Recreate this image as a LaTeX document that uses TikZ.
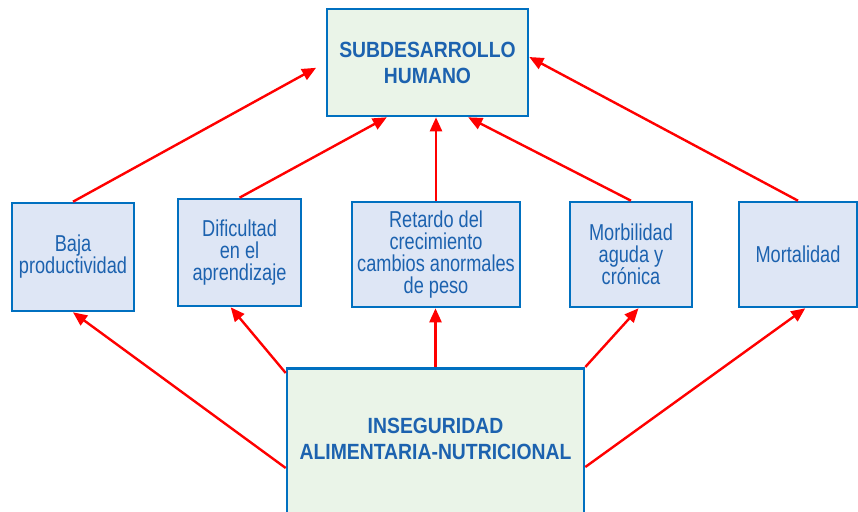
\documentclass[tikz,border=0pt]{standalone}
\usepackage{fontspec}
\setmainfont{Liberation Sans}[FakeStretch=0.79,BoldFeatures={FakeStretch=0.88}]
\usepackage{xcolor}
\usetikzlibrary{shapes,arrows.meta,positioning,calc}
\definecolor{boxblue}{RGB}{0,112,192}
\definecolor{textblue}{RGB}{28,98,175}
\definecolor{effectfill}{RGB}{222,230,245}
\definecolor{causefill}{RGB}{234,244,232}
\definecolor{arrowred}{RGB}{255,0,0}

\begin{document}
\begin{tikzpicture}[x=1pt,y=-1pt,
    effect/.style={draw=boxblue, line width=2.6pt, fill=effectfill, text=textblue, align=center, inner sep=2pt, font=\fontsize{23}{22}\selectfont},
    cause/.style={draw=boxblue, line width=2.6pt, fill=causefill, text=textblue, align=center, font=\fontsize{22}{26}\selectfont\bfseries},
    link/.style={draw=arrowred, line width=2.4pt, -{Triangle[length=14pt,width=12pt]}}]
    \useasboundingbox (0,0) rectangle (858,511);

    % Top: human underdevelopment
    \node[cause, minimum width=201pt, minimum height=107pt] (subdes) at (427.5,62.5) {SUBDESARROLLO\\HUMANO};

    % Middle row: consequences
    \node[effect, minimum width=122pt, minimum height=108pt] (baja) at (73,257) {Baja\\productividad};
    \node[effect, minimum width=123pt, minimum height=107pt] (dific) at (239.5,252.5) {Dificultad\\en el\\aprendizaje};
    \node[effect, minimum width=168pt, minimum height=105pt] (retardo) at (436,254.5) {Retardo del\\crecimiento\\cambios anormales\\de peso};
    \node[effect, minimum width=122pt, minimum height=105pt] (morbi) at (631,254.5) {Morbilidad\\aguda y\\crónica};
    \node[effect, minimum width=118pt, minimum height=105pt] (mortal) at (798,254.5) {Mortalidad};

    % Bottom: food and nutrition insecurity
    \node[cause, anchor=north, minimum width=297pt, text width=290pt, inner xsep=3.5pt, inner ysep=5pt, text height=60pt, text depth=150pt] (inseg) at (435.5,367) {INSEGURIDAD\\ALIMENTARIA-NUTRICIONAL};

    % Consequences -> underdevelopment
    \draw[link, shorten >=11pt] (baja.north) -- (subdes.west);
    \draw[link] (dific.north) -- ($(subdes.south west)!0.3!(subdes.south east)$);
    \draw[link] (retardo.north) -- (retardo.north |- subdes.south);
    \draw[link] (morbi.north) -- ($(subdes.south west)!0.7!(subdes.south east)$);
    \draw[link] (mortal.north) -- ($(subdes.north east)!0.45!(subdes.south east)$);

    % Insecurity -> consequences
    \draw[link] ([yshift=-101pt]inseg.north west) -- (baja.south);
    \draw[link] ([yshift=-6pt]inseg.north west) -- ($(dific.south west)!0.43!(dific.south east)$);
    \draw[link] (inseg.north) -- (inseg.north |- retardo.south);
    \draw[link] (inseg.north east) -- ($(morbi.south west)!0.56!(morbi.south east)$);
    \draw[link] ([yshift=-100pt]inseg.north east) -- ($(mortal.south west)!0.56!(mortal.south east)$);
\end{tikzpicture}
\end{document}
